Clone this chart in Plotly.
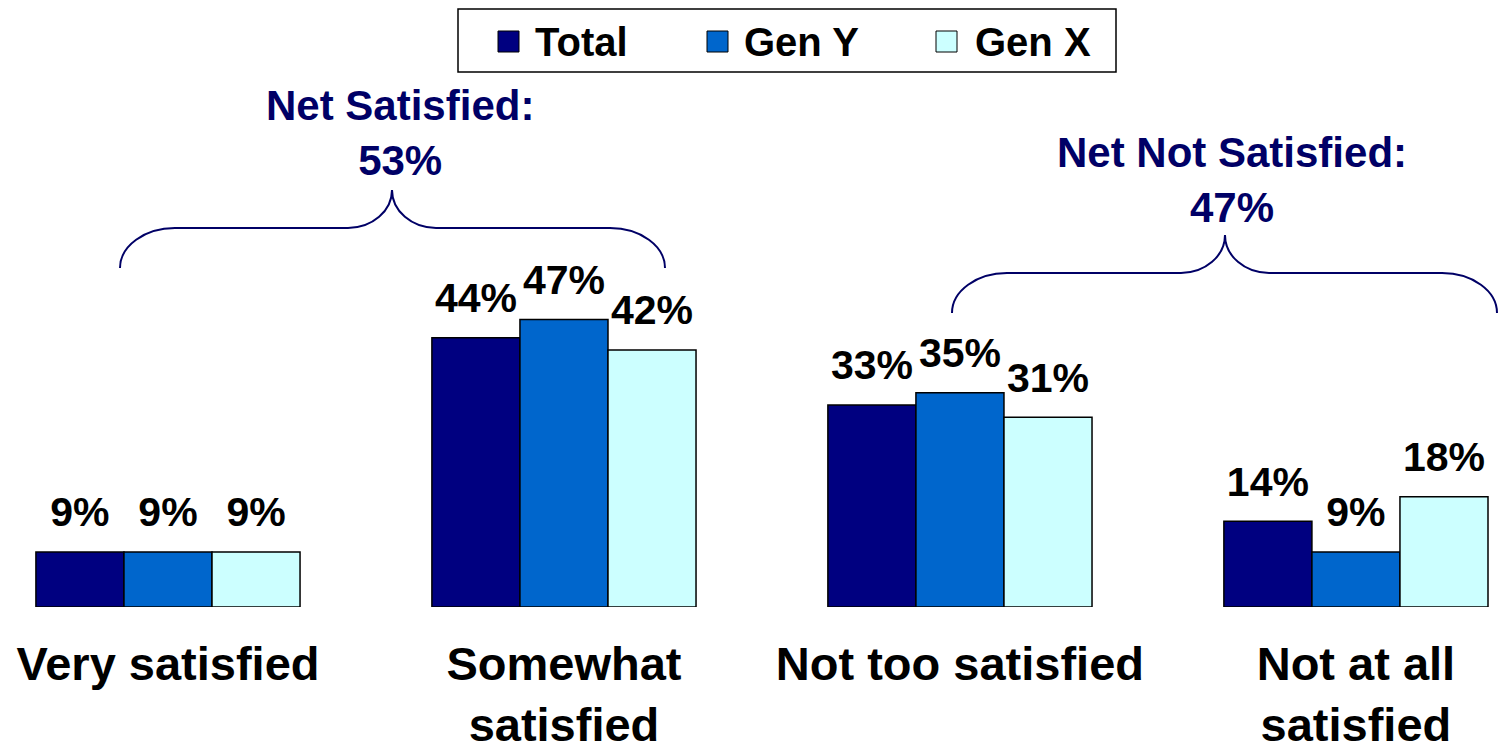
import plotly.graph_objects as go

# ---- data ----
categories = ["Very satisfied", "Somewhat<br>satisfied", "Not too satisfied", "Not at all<br>satisfied"]
series_names = ["Total", "Gen Y", "Gen X"]
total = [9, 44, 33, 14]
gen_y = [9, 47, 35, 9]
gen_x = [9, 42, 31, 18]
net_labels = ["Net Satisfied:<br>53%", "Net Not Satisfied:<br>47%"]

# ---- style ----
colors = ["#000080", "#0066CC", "#CCFFFF"]
NAVY = "#000066"
FONT = "Liberation Sans, Arial, sans-serif"
OFF = 8            # page body margin
W, H = 1500, 738
PB = 599           # plot bottom (figure pixels from top)
PH = 599           # plot height


def fx(x):
    """page pixel x -> paper fraction"""
    return (x - OFF) / W


def fy(y):
    """page pixel y -> paper fraction"""
    return (PB - (y - OFF)) / PH


fig = go.Figure()
values = [total, gen_y, gen_x]
for name, vals, col in zip(series_names, values, colors):
    fig.add_trace(go.Bar(
        name=name, x=categories, y=vals,
        marker=dict(color=col, line=dict(color="black", width=1.5)),
        showlegend=False, hoverinfo="skip", offsetgroup=name,
    ))
for name, vals in zip(series_names, values):
    fig.add_trace(go.Scatter(
        x=categories, y=vals, mode="markers+text",
        text=[f"{v}%" for v in vals], textposition="top center",
        textfont=dict(family=FONT, size=41, color="black", weight="bold"),
        marker=dict(size=23, color="rgba(0,0,0,0)"),
        showlegend=False, hoverinfo="skip", cliponaxis=False, offsetgroup=name,
    ))


def brace(x0, x1, xm, yE, yH, yP, a=55, a2=44):
    k = 0.552
    b = yE - yH
    b2 = yH - yP
    pts = [
        ("M", [(x0, yE)]),
        ("C", [(x0, yE - k * b), (x0 + a * (1 - k), yH), (x0 + a, yH)]),
        ("L", [(xm - a2, yH)]),
        ("C", [(xm - a2 + k * a2, yH), (xm, yP + k * b2), (xm, yP)]),
        ("C", [(xm, yP + k * b2), (xm + a2 - k * a2, yH), (xm + a2, yH)]),
        ("L", [(x1 - a, yH)]),
        ("C", [(x1 - a * (1 - k), yH), (x1, yE - k * b), (x1, yE)]),
    ]
    s = ""
    for cmd, ps in pts:
        s += cmd + " " + " ".join(f"{fx(px):.5f},{fy(py):.5f}" for px, py in ps) + " "
    return s.strip()


shapes = [
    dict(type="path", xref="paper", yref="paper",
         path=brace(120, 665, 392, 268, 228, 190),
         line=dict(color=NAVY, width=2)),
    dict(type="path", xref="paper", yref="paper",
         path=brace(952, 1497, 1225, 313, 273, 235),
         line=dict(color=NAVY, width=2)),
    # legend box
    dict(type="rect", xref="paper", yref="paper",
         x0=fx(458), x1=fx(1116), y0=fy(72), y1=fy(9),
         line=dict(color="black", width=1.5), fillcolor="white"),
]
legend_sq_x = [498, 707, 936]
legend_tx_x = [533, 742, 973]
annotations = []
for name, col, sx, tx in zip(series_names, colors, legend_sq_x, legend_tx_x):
    shapes.append(dict(type="rect", xref="paper", yref="paper",
                       x0=fx(sx), x1=fx(sx + 21), y0=fy(52), y1=fy(31),
                       line=dict(color="black", width=1), fillcolor=col))
    annotations.append(dict(text=name, xref="paper", yref="paper",
                            x=fx(tx), y=fy(42), xanchor="left", yanchor="middle",
                            showarrow=False,
                            font=dict(family=FONT, size=40, color="black", weight="bold")))

annotations.append(dict(text=net_labels[0], xref="paper", yref="paper",
                        x=fx(400), y=fy(133), xanchor="center", yanchor="middle",
                        showarrow=False,
                        font=dict(family=FONT, size=42, color=NAVY, weight="bold")))
annotations.append(dict(text=net_labels[1], xref="paper", yref="paper",
                        x=fx(1232), y=fy(180), xanchor="center", yanchor="middle",
                        showarrow=False,
                        font=dict(family=FONT, size=42, color=NAVY, weight="bold")))

fig.update_layout(
    width=W, height=H,
    margin=dict(l=0, r=0, t=0, b=H - PB, pad=0),
    template="none",
    paper_bgcolor="white", plot_bgcolor="white",
    barmode="group", bargap=0.333, bargroupgap=0,
    scattermode="group", scattergap=0.333,
    showlegend=False,
    shapes=shapes, annotations=annotations,
    xaxis=dict(type="category", range=[-0.404, 3.384], showgrid=False, zeroline=False,
               showline=False, ticks="", automargin=False, ticklabelstandoff=25,
               tickfont=dict(family=FONT, size=47, color="black", weight="bold")),
    yaxis=dict(range=[0, 97.9], visible=False, automargin=False),
)

fig.write_html("out.html")
